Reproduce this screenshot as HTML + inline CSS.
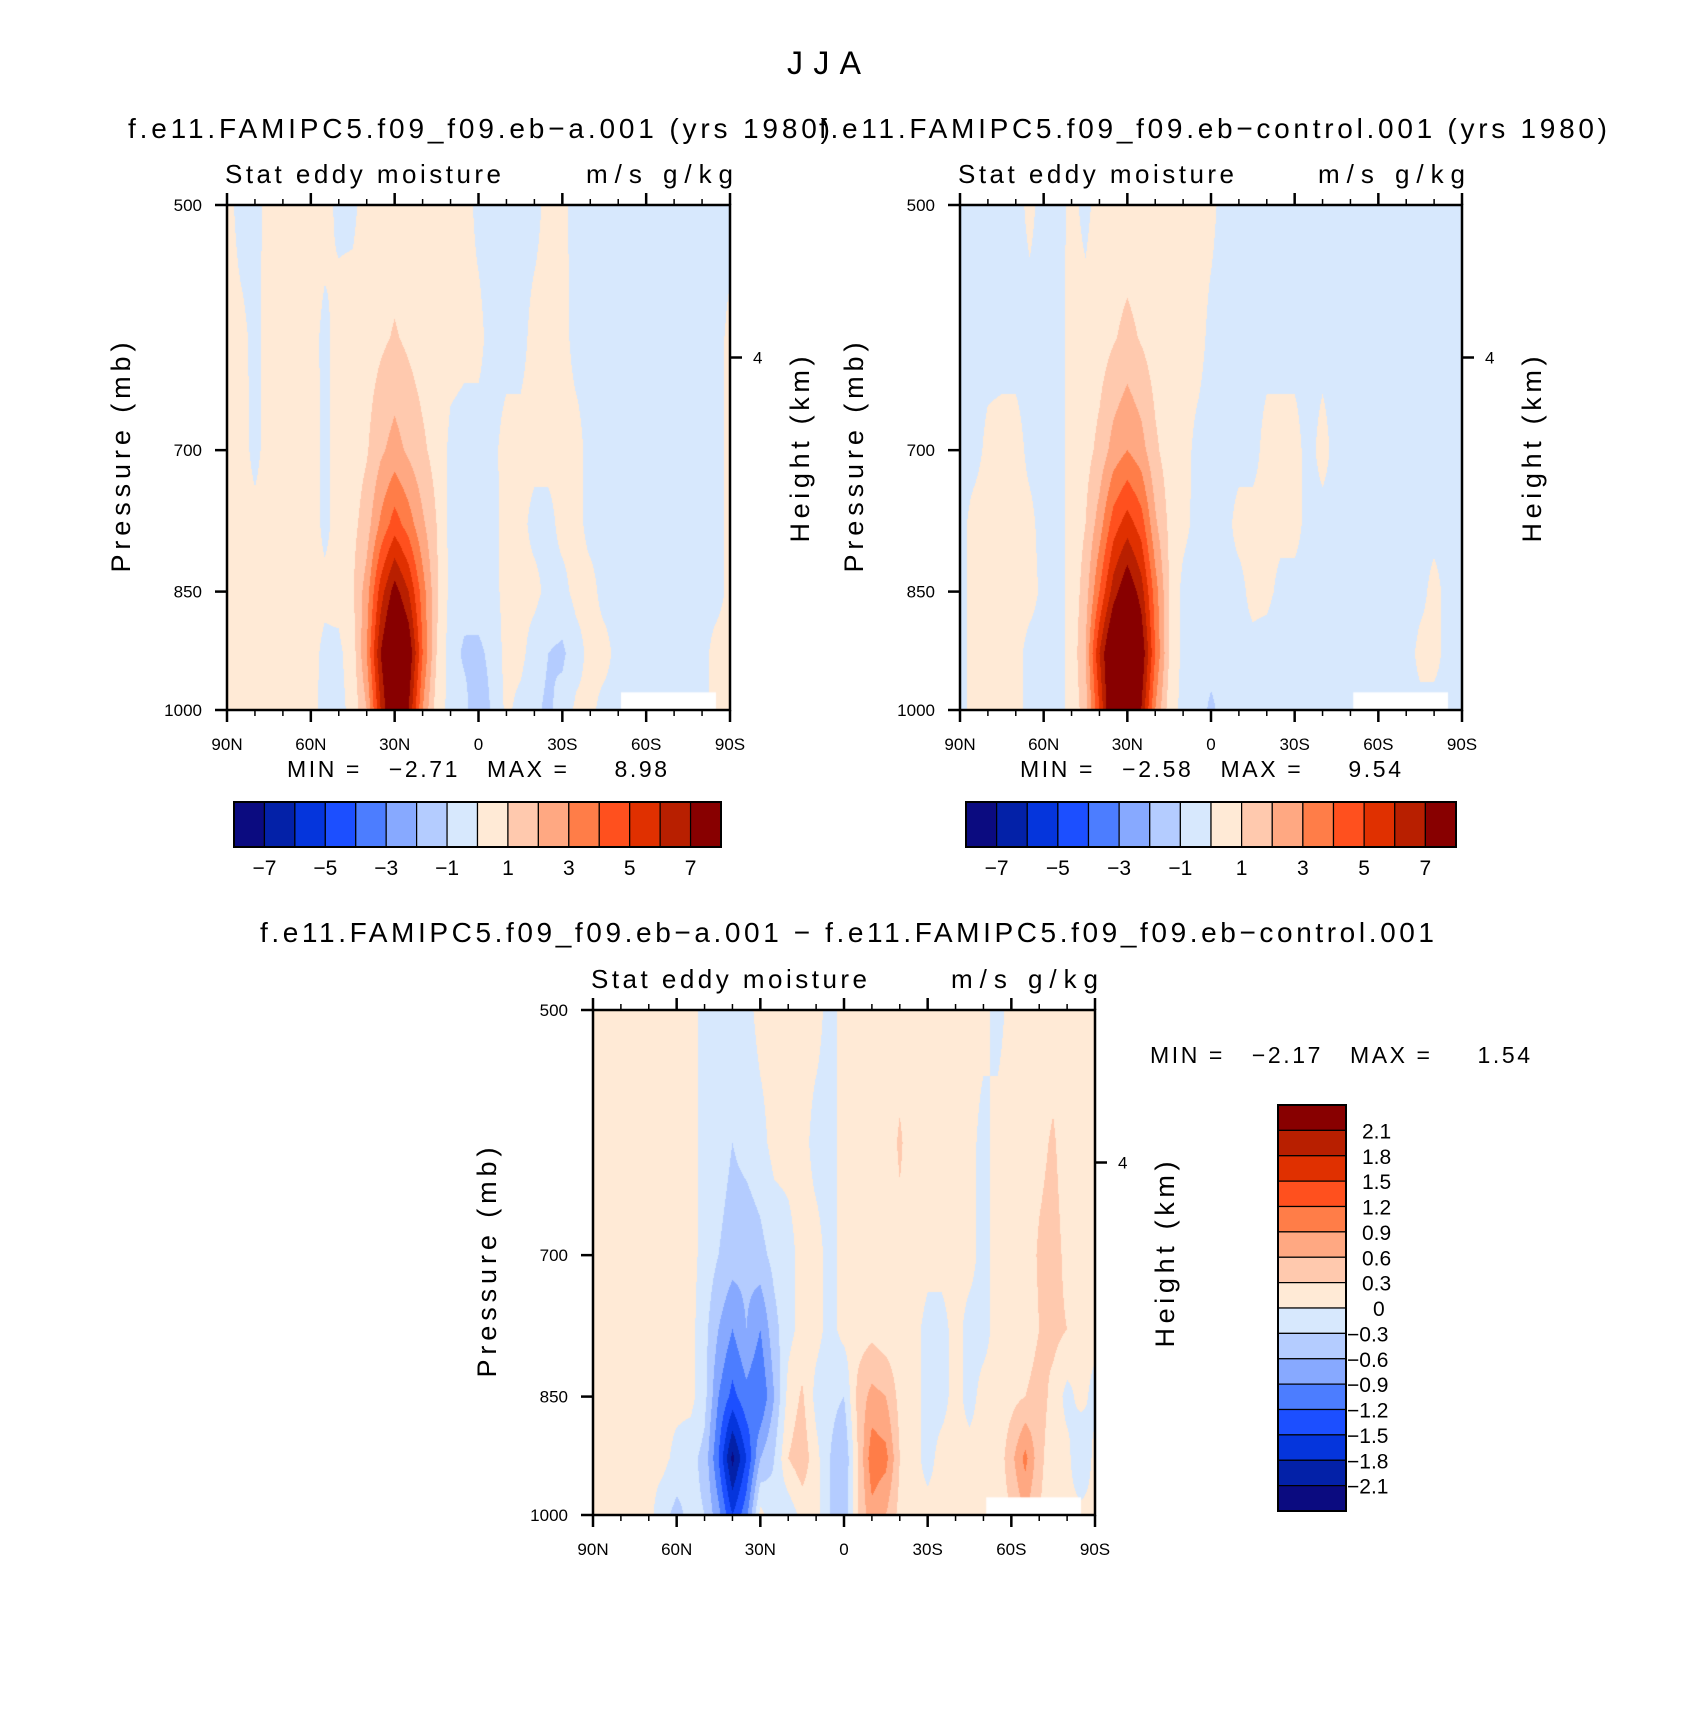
<!DOCTYPE html>
<html><head><meta charset="utf-8">
<style>
body{margin:0;background:#fff;}
#root{position:relative;width:1691px;height:1719px;background:#fff;font-family:"Liberation Sans",sans-serif;color:#000;overflow:hidden;}
canvas{position:absolute;}
svg{position:absolute;left:0;top:0;}
</style></head>
<body>
<div id="root">
<canvas id="c1" width="503" height="505" style="left:227px;top:205px"></canvas>
<canvas id="c2" width="502" height="505" style="left:960px;top:205px"></canvas>
<canvas id="c3" width="502" height="505" style="left:593px;top:1010px"></canvas>
<svg id="ov" width="1691" height="1719"></svg>
</div>
<script>
// ---- data ----
const levels = [500,600,700,775,850,925,1000];
const latLabels = ["90N","60N","30N","0","30S","60S","90S"];
const pTicks = [500,700,850,1000];
const bar1Labels = ["-7","-5","-3","-1","1","3","5","7"];
const bar3Labels = ["2.1","1.8","1.5","1.2","0.9","0.6","0.3","0","-0.3","-0.6","-0.9","-1.2","-1.5","-1.8","-2.1"];
const colors = ["#0b0b80","#0321a8","#0535dc","#1c4fff","#4c7dff","#87a9ff","#b4ccff","#d7e8fd","#ffead6","#ffc9ae","#ffa882","#ff7d48","#ff501e","#e03000","#b81f00","#880000"];
const bounds1 = [-7,-6,-5,-4,-3,-2,-1,0,1,2,3,4,5,6,7];
const bounds3 = [-2.1,-1.8,-1.5,-1.2,-0.9,-0.6,-0.3,0,0.3,0.6,0.9,1.2,1.5,1.8,2.1];
const panelA = [
[0.3,-0.3,-0.3,0.3,0.3,0.3,0.3,0.3,-0.2,-0.2,0.4,0.4,0.4,0.4,0.3,0.3,0.3,0.3,-0.2,-0.3,-0.3,-0.3,-0.3,0.3,0.2,-0.3,-0.3,-0.3,-0.3,-0.3,-0.3,-0.3,-0.3,-0.3,-0.3,-0.3,-0.3],
[0.3,0.2,-0.2,0.3,0.3,0.3,0.3,-0.2,0.3,0.4,0.5,0.8,1.1,0.8,0.5,0.4,0.3,0.2,0.2,-0.3,-0.3,-0.3,0.3,0.3,0.3,-0.3,-0.3,-0.3,-0.3,-0.3,-0.3,-0.3,-0.3,-0.3,-0.3,-0.3,0.2],
[0.3,0.3,-0.2,0.3,0.3,0.3,0.4,-0.2,0.3,0.5,0.9,1.8,2.4,1.8,1.2,0.6,-0.2,-0.3,-0.3,-0.2,0.3,0.3,0.3,0.3,0.3,0.3,-0.3,-0.3,-0.3,-0.3,-0.3,-0.3,-0.3,-0.3,-0.3,-0.3,0.2],
[0.3,0.3,0.2,0.3,0.3,0.3,0.4,-0.2,0.3,0.7,1.5,3.2,4.5,3.5,2.2,1.0,-0.3,-0.3,-0.3,-0.3,0.3,0.3,-0.3,-0.3,0.3,0.3,-0.3,-0.3,-0.3,-0.3,-0.3,-0.3,-0.3,-0.3,-0.3,-0.3,0.2],
[0.3,0.3,0.3,0.3,0.3,0.3,0.3,0.2,0.3,0.9,2.5,5.5,7.5,6.0,3.5,1.2,-0.3,-0.5,-0.3,-0.3,0.3,0.3,0.3,-0.3,-0.3,0.3,0.3,-0.3,-0.3,-0.3,-0.3,-0.3,-0.3,-0.3,-0.3,-0.3,0.2],
[0.3,0.3,0.3,0.3,0.3,0.3,0.3,-0.2,-0.2,0.5,3.0,7.0,9.5,8.0,4.0,1.0,-0.5,-1.2,-1.3,-0.6,0.3,0.3,-0.5,-1.0,-1.2,-0.4,0.3,0.3,-0.3,-0.3,-0.3,-0.3,-0.3,-0.3,-0.3,0.3,0.3],
[0.3,0.3,0.3,0.3,0.3,0.3,0.3,-0.3,-0.3,0.3,2.0,6.0,9.0,7.0,3.0,0.5,-0.3,-0.6,-2.0,-0.8,0.2,-0.3,-0.8,-1.2,-0.6,0.2,0.2,-0.3,-0.3,-0.3,-0.3,-0.3,-0.3,-0.3,-0.3,0.3,0.3]
];
const panelC = [
[-0.3,-0.3,-0.3,-0.3,-0.3,0.2,-0.3,-0.3,0.2,-0.2,0.3,0.3,0.3,0.3,0.3,0.3,0.3,0.3,0.2,-0.3,-0.3,-0.3,-0.3,-0.3,-0.3,-0.3,-0.3,-0.3,-0.3,-0.3,-0.3,-0.3,-0.3,-0.3,-0.3,-0.3,-0.3],
[-0.3,-0.3,-0.3,-0.3,-0.3,-0.3,-0.3,-0.3,0.3,0.3,0.5,0.9,1.3,0.9,0.5,0.3,0.3,0.3,-0.2,-0.3,-0.3,-0.3,-0.3,-0.3,-0.3,-0.3,-0.3,-0.3,-0.3,-0.3,-0.3,-0.3,-0.3,-0.3,-0.3,-0.3,-0.3],
[-0.3,-0.3,0.2,0.3,0.3,-0.2,-0.3,-0.3,0.3,0.6,1.3,2.4,3.0,2.4,1.2,0.5,0.3,-0.2,-0.3,-0.3,-0.3,-0.3,0.3,0.3,0.3,-0.3,0.3,-0.3,-0.3,-0.3,-0.3,-0.3,-0.3,-0.3,-0.3,-0.3,-0.3],
[-0.3,0.3,0.4,0.4,0.3,0.2,-0.3,-0.3,0.3,1.0,2.5,4.5,5.5,4.5,2.2,0.8,0.3,-0.3,-0.4,-0.3,0.3,0.3,0.3,0.3,0.3,-0.3,-0.3,-0.3,-0.3,-0.3,-0.3,-0.3,-0.3,-0.3,-0.3,-0.3,-0.3],
[-0.3,0.3,0.4,0.4,0.4,0.3,-0.2,-0.3,0.3,1.5,4.0,6.5,8.0,6.5,3.5,1.0,-0.3,-0.6,-0.4,-0.3,-0.3,0.3,0.3,-0.3,-0.3,-0.3,-0.3,-0.3,-0.3,-0.3,-0.3,-0.3,-0.5,-0.3,0.3,-0.3,-0.3],
[-0.3,0.3,0.4,0.4,0.3,-0.3,-0.3,-0.3,0.3,2.0,6.0,9.0,10.0,8.0,4.0,1.0,-0.3,-0.5,-0.6,-0.8,-0.3,-0.3,-0.5,-0.8,-0.3,-0.3,-0.3,-0.3,-0.3,-0.3,-0.5,-0.8,-0.5,0.3,0.3,-0.3,-0.3],
[-0.3,0.3,0.3,0.3,0.3,-0.3,-0.3,-0.3,0.3,1.5,5.0,9.0,9.5,7.0,3.0,0.5,-0.3,-0.5,-1.2,-0.6,-0.3,-0.5,-0.6,-0.3,-0.3,-0.3,-0.3,-0.3,-0.3,-0.3,-0.3,-0.6,-0.3,-0.3,-0.3,-0.3,-0.3]
];
const panelD = [
[0.1,0.1,0.1,0.1,0.1,0.1,0.1,0.1,-0.1,-0.1,-0.1,-0.1,0.1,0.1,0.1,0.1,0.1,-0.1,0.1,0.1,0.1,0.1,0.1,0.2,0.1,0.1,0.1,0.1,0.1,-0.1,0.1,0.1,0.1,0.1,0.1,0.1,0.1],
[0.1,0.1,0.1,0.1,0.1,0.1,0.1,0.1,-0.1,-0.15,-0.3,-0.2,-0.1,0.1,0.1,0.1,-0.1,-0.1,0.1,0.1,0.1,0.1,0.35,0.1,0.1,0.1,0.1,0.1,-0.1,0.1,0.1,0.1,0.2,0.35,0.1,0.1,0.1],
[0.1,0.1,0.1,0.1,0.1,0.1,0.1,0.1,-0.1,-0.3,-0.45,-0.5,-0.4,-0.2,-0.1,0.1,0.1,-0.1,0.1,0.1,0.1,0.1,0.2,0.2,0.1,0.1,0.1,0.1,-0.1,0.1,0.1,0.1,0.35,0.45,0.2,0.1,0.1],
[0.1,0.1,0.1,0.1,0.1,0.1,0.1,0.1,-0.2,-0.6,-0.9,-0.6,-0.9,-0.4,-0.1,0.1,0.1,-0.1,0.1,0.15,0.2,0.1,0.1,0.1,-0.1,-0.1,0.1,-0.1,-0.1,0.1,0.1,0.1,0.3,0.4,0.3,0.1,0.1],
[0.1,0.1,0.1,0.1,0.1,0.1,0.1,0.1,-0.2,-0.9,-1.3,-1.0,-1.2,-0.6,0.1,0.35,-0.1,-0.2,-0.3,0.4,0.7,0.6,0.2,0.1,-0.1,-0.1,0.1,-0.1,0.1,0.1,0.2,0.3,0.45,0.2,-0.1,0.1,-0.1],
[0.1,0.1,0.1,0.1,0.1,0.1,-0.1,-0.2,-0.4,-1.2,-2.2,-1.5,-0.6,-0.3,0.3,0.5,0.1,-0.3,-0.6,0.3,1.1,1.0,0.3,0.1,-0.1,0.1,0.1,0.1,0.1,0.1,0.5,1.0,0.4,0.1,0.1,-0.3,0.1],
[0.1,0.1,0.1,0.1,0.1,-0.2,-0.4,-0.2,-0.3,-0.8,-1.5,-1.0,0.1,-0.2,-0.2,0.1,0.1,-0.3,-0.5,0.3,0.8,0.6,0.2,0.1,0.1,0.1,0.1,0.1,0.1,0.1,0.3,0.6,0.3,0.1,0.1,0.1,0.1]
];
// ---- drawing ----
function yFrac(p){return Math.log(p/500)/Math.log(2);}
function colorFor(v,b){let i=0;while(i<b.length&&v>=b[i])i++;return colors[i];}
function hex(c){return [parseInt(c.slice(1,3),16),parseInt(c.slice(3,5),16),parseInt(c.slice(5,7),16)];}
function drawField(id,grid,b){
  const cv=document.getElementById(id),ctx=cv.getContext('2d'),W=cv.width,H=cv.height;
  const img=ctx.createImageData(W,H);const nx=grid[0].length;
  const ly=levels.map(yFrac);
  for(let py=0;py<H;py++){
    const f=(py+0.5)/H;let k=0;while(k<ly.length-2&&f>ly[k+1])k++;
    const ty=Math.min(1,Math.max(0,(f-ly[k])/(ly[k+1]-ly[k])));
    for(let px=0;px<W;px++){
      const gx=(px+0.5)/W*(nx-1);const i=Math.min(nx-2,Math.floor(gx));const tx=gx-i;
      const a=grid[k][i]*(1-tx)+grid[k][i+1]*tx, c=grid[k+1][i]*(1-tx)+grid[k+1][i+1]*tx;
      const v=a*(1-ty)+c*ty;const rgb=hex(colorFor(v,b));const o=(py*W+px)*4;
      img.data[o]=rgb[0];img.data[o+1]=rgb[1];img.data[o+2]=rgb[2];img.data[o+3]=255;
    }
  }
  ctx.putImageData(img,0,0);
  ctx.fillStyle='#fff';ctx.fillRect(W*(141/180),H*(1-0.035),W*(34/180),H*0.035+1);
}
drawField('c1',panelA,bounds1);drawField('c2',panelC,bounds1);drawField('c3',panelD,bounds3);

const NS='http://www.w3.org/2000/svg';const ov=document.getElementById('ov');
function el(tag,attrs,parent){const e=document.createElementNS(NS,tag);for(const k in attrs)e.setAttribute(k,attrs[k]);(parent||ov).appendChild(e);return e;}
function txt(x,y,s,size,anchor,name,rot,len){const e=el('text',{x:x,y:y,'font-size':size,'text-anchor':anchor||'start','font-family':'Liberation Sans, sans-serif',fill:'#000'});e.textContent=s;
  
  
  e.setAttribute('style','white-space:pre');
  if(len){e.setAttribute('textLength',len);e.setAttribute('lengthAdjust','spacing');}
  if(rot)e.setAttribute('transform','rotate(-90 '+x+' '+y+')');return e;}
txt(824,74,'JJA',32,'middle','figure-title',false,74);
function panel(L,R,T,B,pre,ax){
  const g=el('g',{});
  
  
  el('rect',{x:L,y:T,width:R-L,height:B-T,fill:'none',stroke:'#000','stroke-width':2.5},g);
  const xs=d=>L+(d/180)*(R-L);const ys=p=>T+yFrac(p)*(B-T);
  for(let d=0;d<=180;d+=10){const maj=d%30===0;const len=maj?12:6;
    el('line',{x1:xs(d),x2:xs(d),y1:T,y2:T-len,stroke:'#000','stroke-width':maj?2.5:1.5},g);
    el('line',{x1:xs(d),x2:xs(d),y1:B,y2:B+len,stroke:'#000','stroke-width':maj?2.5:1.5},g);}
  latLabels.forEach((s,i)=>txt(xs(i*30),B+40,s,17,'middle',pre+'-x-tick-label'));
  pTicks.forEach(p=>{el('line',{x1:L,x2:L-12,y1:ys(p),y2:ys(p),stroke:'#000','stroke-width':2.5},g);
    txt(L-25,ys(p)+6,String(p),17,'end',pre+'-y-tick-label');});
  const y4=T+0.302*(B-T);
  el('line',{x1:R,x2:R+12,y1:y4,y2:y4,stroke:'#000','stroke-width':2.5},g);
  txt(R+23,y4+6,'4',17,'start',pre+'-height-tick-label');
  txt(L-2,T-22,'Stat eddy moisture',26,'start',pre+'-subtitle',false,276);
  txt(R+3,T-22,'m/s g/kg',26,'end',pre+'-units',false,147);
  txt(L-97,(T+B)/2,'Pressure (mb)',27,'middle',pre+'-y-axis-title',true,230);
  txt(R+79,(T+B)/2-8,'Height (km)',27,'middle',pre+'-height-axis-title',true,186);
}
panel(227,730,205,710,'panel-a');
panel(960,1462,205,710,'panel-control');
panel(593,1095,1010,1515,'panel-diff');
txt(128,138,'f.e11.FAMIPC5.f09_f09.eb\u2212a.001 (yrs 1980)',28,'start','panel-a-title',false,702);
txt(1607,138,'f.e11.FAMIPC5.f09_f09.eb\u2212control.001 (yrs 1980)',28,'end','panel-control-title',false,788);
txt(847,942,'f.e11.FAMIPC5.f09_f09.eb\u2212a.001 \u2212 f.e11.FAMIPC5.f09_f09.eb\u2212control.001',28,'middle','panel-diff-title',false,1174);
txt(287,777,'MIN =   \u22122.71   MAX =     8.98',23,'start','panel-a-minmax',false,380);
txt(1020,777,'MIN =   \u22122.58   MAX =     9.54',23,'start','panel-control-minmax',false,381);
txt(1150,1063,'MIN =   \u22122.17   MAX =     1.54',23,'start','panel-diff-minmax',false,380);
// horizontal colorbars
function hbar(L,R,T,B,pre){const w=(R-L)/16;
  colors.forEach((c,i)=>{const r=el('rect',{x:L+i*w,y:T,width:w,height:B-T,fill:c,stroke:'#000','stroke-width':1.2});
    
    });
  el('rect',{x:L,y:T,width:R-L,height:B-T,fill:'none',stroke:'#000','stroke-width':2});
  bar1Labels.forEach((s,i)=>txt(L+(1+2*i)*w,B+28,s.replace('-','\u2212'),21,'middle',pre+'-colorbar-label'));}
hbar(234,721,802,847,'panel-a');hbar(966,1456,802,847,'panel-control');
// vertical colorbar
(function(){const L=1278,R=1346,T=1105,B=1511,h=(B-T)/16;
  colors.slice().reverse().forEach((c,i)=>{const r=el('rect',{x:L,y:T+i*h,width:R-L,height:h,fill:c,stroke:'#000','stroke-width':1.2});
    
    });
  el('rect',{x:L,y:T,width:R-L,height:B-T,fill:'none',stroke:'#000','stroke-width':2});
  bar3Labels.forEach((s,i)=>{const lab=s.replace('-','\u2212');const x=s.startsWith('-')?1347:(s==='0'?1373:1362);
    txt(x,T+(i+1)*h+8,lab,21,'start','panel-diff-colorbar-label');});})();
</script>
</body></html>
